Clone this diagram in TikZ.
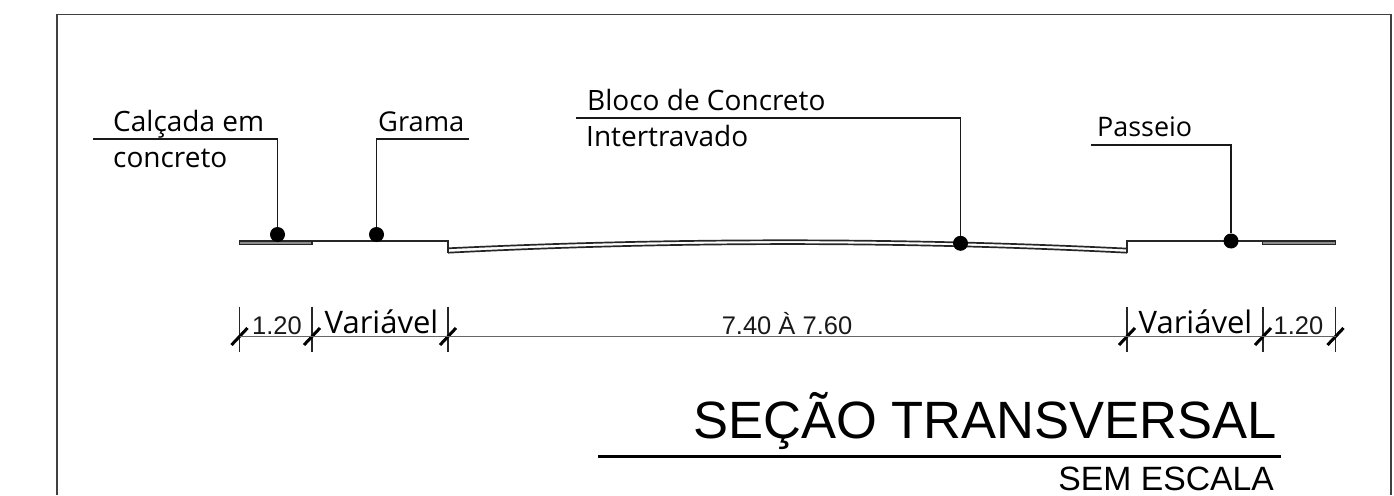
\documentclass[tikz,border=0pt]{standalone}
\usepackage{fontspec}
\setmainfont{Liberation Sans}
\newfontfamily\labelfont{Open Sans}
\begin{document}
\begin{tikzpicture}[x=1pt,y=-1pt,
  frameline/.style={draw=black!75,line width=1.5pt},
  leader/.style={draw=black!90,line width=1.9pt},
  surf/.style={draw=black!85,line width=1.7pt},
  dimline/.style={draw=black!60,line width=1.7pt},
  ext/.style={draw=black!85,line width=1.2pt},
  tick/.style={draw=black,line width=3pt},
  dot/.style={circle,fill=black,inner sep=0pt,minimum size=15pt},
  lab/.style={font=\labelfont\fontsize{28}{28}\selectfont,anchor=base west,inner sep=0pt,text=black},
  varlab/.style={font=\labelfont\fontsize{31}{31}\selectfont,anchor=base,inner sep=0pt,text=black},
  dimtxt/.style={font=\fontsize{25.5}{26}\selectfont,anchor=base,inner sep=0pt,text=black!90},
  pad/.style={draw=black!85,fill=black!45,line width=1.6pt}]
\useasboundingbox (0,0) rectangle (1394,495);
% frame
\coordinate (fbl) at (57,495); \coordinate (ftl) at (57,14.5);
\coordinate (ftr) at (1391,14.5); \coordinate (fbr) at (1391,495);
\draw[frameline] (fbl) -- (ftl) -- (ftr) -- (fbr);
% profile
\draw[pad] (239.5,241) rectangle (312,244.5);
\draw[pad] (1262.5,241) rectangle (1335.5,244.5);
\draw[surf] (312,241) -- (448,241) -- (448,252.7);
\draw[surf] (448,248.3) .. controls (673,237.6) and (902,237.6) .. (1127,248.6);
\draw[surf] (448,252.7) .. controls (673,241.2) and (902,241.2) .. (1127,252.7);
\draw[surf] (1127,252.7) -- (1127,241) -- (1262.5,241);
% dots
\node[dot] (d1) at (277.5,234.5) {};
\node[dot] (d2) at (376.5,234.5) {};
\node[dot] (d3) at (960.5,243.3) {};
\node[dot] (d4) at (1231,241) {};
% leaders
\coordinate (l1) at (93,139); \coordinate (c1) at (277.5,139);
\coordinate (l2) at (469,139); \coordinate (c2) at (376.5,139);
\coordinate (l3) at (576,118); \coordinate (c3) at (960.5,118);
\coordinate (l4) at (1091,145); \coordinate (c4) at (1231,145);
\draw[leader] (l1) -- (c1) -- (d1);
\draw[leader] (l2) -- (c2) -- (d2);
\draw[leader] (l3) -- (c3) -- (d3);
\draw[leader] (l4) -- (c4) -- (d4);
% labels
\node[lab] (t1) at (113,131) {Calçada em};
\node[lab] (t1b) at (113,167) {concreto};
\node[lab,font=\labelfont\fontsize{27.3}{28}\selectfont] (t2) at (378,131) {Grama};
\node[lab] (t3) at (587,110) {Bloco de Concreto};
\node[lab] (t3b) at (586,146) {Intertravado};
\node[lab,font=\labelfont\fontsize{26.9}{28}\selectfont] (t4) at (1097,136) {Passeio};
% dimensions
\foreach \n/\x in {a/239.5,b/312,c/448,d/1127,e/1263,f/1335.5}{
  \coordinate (\n) at (\x,336.5);
  \draw[ext] (\x,306.5) -- (\x,352);
  \draw[tick] (\x-8,345) -- (\x+8,328);
}
\draw[dimline] (a) -- (f);
\node[dimtxt] (v1) at (277,334) {1.20};
\node[varlab] (v2) at (381.5,333.5) {Variável};
\node[dimtxt] (v3) at (787,334) {7.40 À 7.60};
\node[varlab] (v4) at (1195.5,333.5) {Variável};
\node[dimtxt] (v5) at (1298.5,334) {1.20};
% title
\node[font=\fontsize{52.5}{52}\selectfont,anchor=base east,inner sep=0pt] (title) at (1277,438.5) {SEÇÃO TRANSVERSAL};
\coordinate (ul) at (598,456.5); \coordinate (ur) at (1281,456.5);
\draw[line width=3.6pt] (ul) -- (ur);
\node[font=\fontsize{33.7}{33}\selectfont,anchor=base east,inner sep=0pt] (sub) at (1274,490) {SEM ESCALA};
\end{tikzpicture}
\end{document}
